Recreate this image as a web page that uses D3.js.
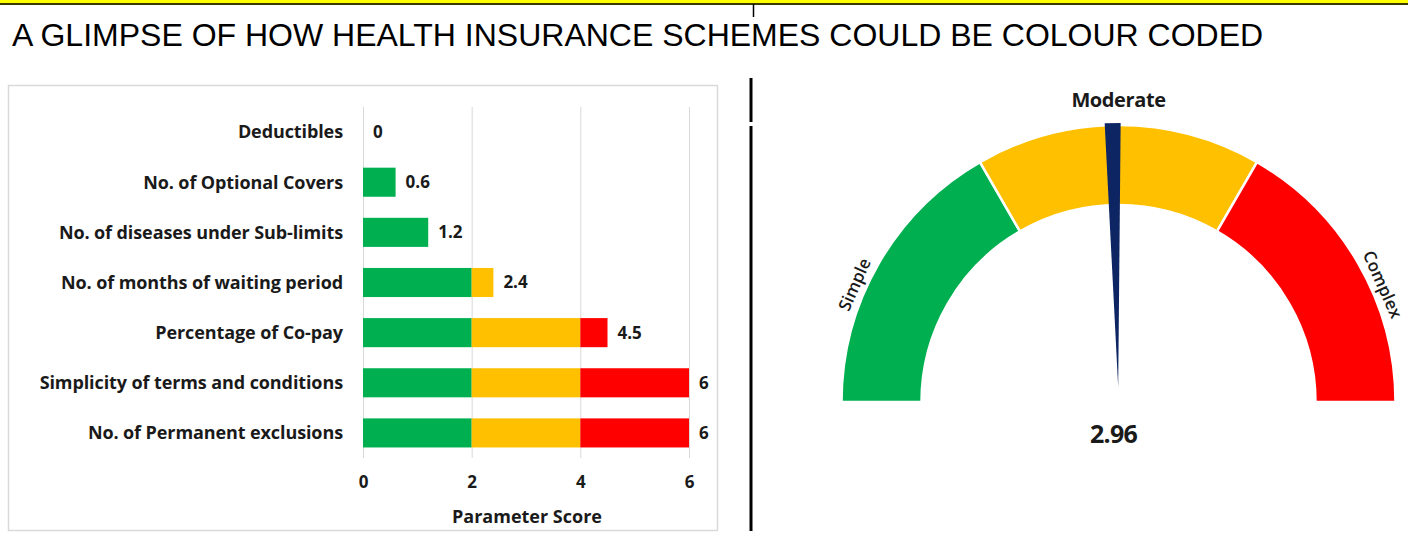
<!DOCTYPE html>
<meta charset="utf-8">
<style>

body
{
  margin: 0;
  background: #fff;
}

text
{
  font-family: "Open Sans", sans-serif;
  fill: #1a1a1a;
}

.title
{
  font-family: "Liberation Sans", Arial, sans-serif;
  font-size: 32px;
  fill: #000;
}

.cat
{
  font-size: 18px;
  font-weight: 700;
  letter-spacing: -0.1px;
}

.val, .axis text
{
  font-size: 17px;
  font-weight: 700;
}

.axis .domain
{
  display: none;
}

.grid line
{
  stroke: #d9d9d9;
  stroke-width: 1px;
}

.grid .domain
{
  display: none;
}

</style>
<svg width="1408" height="544"></svg>
<script src="https://d3js.org/d3.v7.min.js"></script>
<script>

// data
var categories = [
  "Deductibles",
  "No. of Optional Covers",
  "No. of diseases under Sub-limits",
  "No. of months of waiting period",
  "Percentage of Co-pay",
  "Simplicity of terms and conditions",
  "No. of Permanent exclusions"
];
var scores = [0, 0.6, 1.2, 2.4, 4.5, 6, 6];
var scoreTicks = [0, 2, 4, 6];

var bandNames = ["Simple", "Moderate", "Complex"];
var bandEdges = [0, 2, 4, 6];
var bandColors = ["#00b050", "#ffc000", "#ff0000"];

var gaugeValue = 2.96;

var svg = d3.select("svg");

// top strip
svg.append("rect").attr("x", 0).attr("y", 0).attr("width", 1408).attr("height", 3).attr("fill", "#ffff00");
svg.append("rect").attr("x", 0).attr("y", 3).attr("width", 1408).attr("height", 2).attr("fill", "#3b3b00");
svg.append("line").attr("x1", 753.5).attr("x2", 753.5).attr("y1", 4).attr("y2", 17)
    .attr("stroke", "#000").attr("stroke-width", 1.5);

svg.append("text")
    .attr("class", "title")
    .attr("x", 12)
    .attr("y", 46)
    .text("A GLIMPSE OF HOW HEALTH INSURANCE SCHEMES COULD BE COLOUR CODED");

// divider
svg.append("line").attr("x1", 751).attr("x2", 751).attr("y1", 78).attr("y2", 122)
    .attr("stroke", "#000").attr("stroke-width", 3);
svg.append("line").attr("x1", 751).attr("x2", 751).attr("y1", 126).attr("y2", 531)
    .attr("stroke", "#000").attr("stroke-width", 3);

// ---- left: stacked bar chart ----
svg.append("rect")
    .attr("x", 8.5).attr("y", 85.5).attr("width", 709).attr("height", 445)
    .attr("fill", "#fff").attr("stroke", "#d9d9d9").attr("stroke-width", 1.5);

var x = d3.scaleLinear().domain([0, 6]).range([363, 689]);
var y = d3.scaleBand().domain(categories).range([107, 458]).paddingInner(0.42).paddingOuter(0.21);

svg.append("g")
    .attr("class", "grid")
    .attr("transform", "translate(0,458)")
    .call(d3.axisBottom(x).tickValues(scoreTicks).tickSize(-351).tickFormat(""));

var rows = categories.map(function(c, i) { return { cat: c, score: scores[i] }; });

var segs = [];
rows.forEach(function(r) {
  for (var b = 0; b < bandNames.length; b++) {
    var lo = bandEdges[b], hi = Math.min(r.score, bandEdges[b + 1]);
    if (hi > lo) segs.push({ cat: r.cat, x0: lo, x1: hi, color: bandColors[b] });
  }
});

svg.append("g")
  .selectAll("rect")
  .data(segs)
  .enter().append("rect")
    .attr("x", function(d) { return x(d.x0); })
    .attr("y", function(d) { return y(d.cat); })
    .attr("width", function(d) { return x(d.x1) - x(d.x0); })
    .attr("height", y.bandwidth())
    .attr("fill", function(d) { return d.color; });

svg.append("g")
  .selectAll("text")
  .data(rows)
  .enter().append("text")
    .attr("class", "cat")
    .attr("x", 343)
    .attr("y", function(d) { return y(d.cat) + y.bandwidth() / 2; })
    .attr("dy", "0.35em")
    .attr("text-anchor", "end")
    .text(function(d) { return d.cat; });

svg.append("g")
  .selectAll("text")
  .data(rows)
  .enter().append("text")
    .attr("class", "val")
    .attr("x", function(d) { return x(d.score) + 10; })
    .attr("y", function(d) { return y(d.cat) + y.bandwidth() / 2; })
    .attr("dy", "0.35em")
    .text(function(d) { return d.score; });

var xAxis = svg.append("g")
    .attr("class", "axis")
    .attr("transform", "translate(0,473)")
    .call(d3.axisBottom(x).tickValues(scoreTicks).tickFormat(d3.format("d")).tickSize(0).tickPadding(3));
xAxis.selectAll("text").attr("fill", "#1a1a1a");

svg.append("text")
    .attr("class", "val")
    .style("font-size", "18px")
    .attr("x", 527)
    .attr("y", 523)
    .attr("text-anchor", "middle")
    .text("Parameter Score");

// ---- right: gauge ----
var cx = 1118.5, cy = 402;
var g = svg.append("g").attr("transform", "translate(" + cx + "," + cy + ")");

var angle = d3.scaleLinear().domain([bandEdges[0], bandEdges[bandEdges.length - 1]]).range([-Math.PI / 2, Math.PI / 2]);
var arc = d3.arc().innerRadius(197).outerRadius(277);

var bands = bandNames.map(function(n, i) { return { name: n, lo: bandEdges[i], hi: bandEdges[i + 1], color: bandColors[i] }; });

g.selectAll("path.band")
  .data(bands)
  .enter().append("path")
    .attr("class", "band")
    .attr("d", function(d) { return arc({ startAngle: angle(d.lo), endAngle: angle(d.hi) }); })
    .attr("fill", function(d) { return d.color; })
    .attr("stroke", "#fff")
    .attr("stroke-width", 2.5);

// needle
var a = angle(gaugeValue);
var rTip = 15, rBase = 279, half = 8;
var ux = Math.sin(a), uy = -Math.cos(a), px = Math.cos(a), py = Math.sin(a);
g.append("path")
    .attr("d", "M" + (ux * rTip) + "," + (uy * rTip) +
               "L" + (ux * rBase + px * half) + "," + (uy * rBase + py * half) +
               "L" + (ux * rBase - px * half) + "," + (uy * rBase - py * half) + "Z")
    .attr("fill", "#0d2562");

// band labels
g.append("text")
    .attr("x", 0).attr("y", -295)
    .attr("text-anchor", "middle")
    .style("font-size", "20px").style("font-weight", 700).style("letter-spacing", "-0.4px")
    .attr("fill", "#000")
    .text(bandNames[1]);

[0, 2].forEach(function(i) {
  var mid = angle(i === 0 ? bandEdges[0] + 0.8 : bandEdges[3] - 0.8);
  var r = 289;
  var deg = mid * 180 / Math.PI;
  g.append("text")
      .attr("transform", "translate(" + (Math.sin(mid) * r) + "," + (-Math.cos(mid) * r) + ") rotate(" + deg + ")")
      .attr("text-anchor", "middle")
      .attr("dy", "0.35em")
      .style("font-size", "17px")
      .style("font-weight", 600)
      .attr("fill", "#000")
      .text(bandNames[i]);
});

g.append("text")
    .attr("x", -5).attr("y", 32)
    .attr("dy", "0.35em")
    .attr("text-anchor", "middle")
    .style("font-size", "25px").style("font-weight", 700).style("letter-spacing", "-0.8px")
    .attr("fill", "#000")
    .text(gaugeValue);

</script>
